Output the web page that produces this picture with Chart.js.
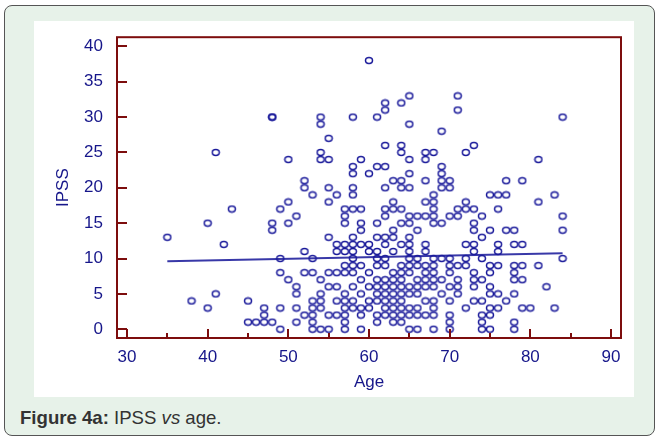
<!DOCTYPE html>
<html lang="en">
  <head>
    <meta charset="UTF-8" />
    <title>IPSS vs age</title>
    <script src="https://cdn.jsdelivr.net/npm/chart.js"></script>
    <style>
      html, body { margin: 0; padding: 0; background: #ffffff; }
      body { width: 661px; height: 439px; position: relative; overflow: hidden; font-family: "Liberation Sans", Arial, sans-serif; }
      #card {
        position: absolute; left: 4px; top: 5px; width: 649px; height: 429px;
        background: #e7f2e9; border: 1.5px solid #555; border-radius: 8px;
      }
      #panel { position: absolute; left: 34px; top: 21px; width: 600px; height: 376px; background: #fff; }
      #caption { position: absolute; left: 20px; top: 407px; font-size: 18.6px; color: #333; }
    </style>
  </head>
  <body>
    <div id="card"></div>
    <div id="panel"><canvas id="scatter" width="600" height="376"></canvas></div>
    <div id="caption"><b>Figure 4a:</b> IPSS <i>vs</i> age.</div>

    <script>
      // scatter values, one line per IPSS level
      const age = [
        60,
        65, 71,
        62, 64,
        62, 71,
        48, 48, 54, 58, 61, 84,
        54, 65,
        69,
        55,
        62, 64, 73,
        41, 54, 64, 67, 68, 72,
        50, 54, 55, 59, 65, 67, 81,
        58, 61, 62, 69,
        58, 60, 65, 69,
        52, 63, 64, 67, 69, 70, 77, 79,
        52, 55, 58, 62, 64, 65, 69, 70,
        53, 56, 58, 68, 75, 76, 77, 83,
        50, 55, 63, 67, 68, 72, 81,
        43, 49, 57, 58, 59, 62, 63, 64, 68, 71, 72, 73, 76,
        51, 57, 62, 65, 66, 67, 68, 70, 71, 74, 84,
        40, 48, 50, 57, 59, 61, 64, 65, 68, 69, 73,
        48, 59, 63, 66, 73, 75, 77, 78, 84,
        35, 55, 58, 61, 62, 63, 65, 74,
        42, 56, 57, 58, 59, 60, 62, 64, 65, 67, 72, 73, 76, 78, 79,
        52, 56, 57, 58, 60, 61, 63, 65, 67, 73, 76,
        49, 53, 58, 61, 62, 65, 66, 68, 69, 70, 72, 74, 84,
        57, 58, 59, 61, 62, 64, 65, 66, 67, 68, 70, 71, 72, 75, 76, 78, 79, 81,
        49, 52, 53, 55, 56, 57, 58, 60, 63, 64, 65, 67, 68, 70, 73, 75, 78,
        50, 54, 59, 61, 62, 63, 64, 66, 67, 68, 69, 71, 73, 74, 78, 79,
        51, 55, 56, 58, 60, 61, 62, 63, 64, 65, 66, 67, 68, 70, 71, 73, 75, 82,
        41, 51, 54, 57, 59, 61, 62, 63, 64, 65, 66, 69, 71, 75, 76, 78,
        38, 45, 53, 54, 56, 57, 58, 60, 61, 62, 63, 64, 67, 68, 70, 73, 74, 77,
        40, 47, 49, 51, 53, 54, 57, 58, 59, 60, 62, 63, 64, 65, 66, 68, 72, 75, 76, 79, 80, 83,
        47, 52, 53, 55, 56, 57, 59, 61, 62, 63, 64, 65, 66, 67, 68, 70, 74, 75,
        45, 46, 47, 48, 51, 53, 57, 61, 63, 64, 70, 74, 78,
        49, 53, 54, 55, 57, 59, 65, 66, 68, 70, 74, 75, 78,
      ];
      const ipss = [
        38,
        33, 33,
        32, 32,
        31, 31,
        30, 30, 30, 30, 30, 30,
        29, 29,
        28,
        27,
        26, 26, 26,
        25, 25, 25, 25, 25, 25,
        24, 24, 24, 24, 24, 24, 24,
        23, 23, 23, 23,
        22, 22, 22, 22,
        21, 21, 21, 21, 21, 21, 21, 21,
        20, 20, 20, 20, 20, 20, 20, 20,
        19, 19, 19, 19, 19, 19, 19, 19,
        18, 18, 18, 18, 18, 18, 18,
        17, 17, 17, 17, 17, 17, 17, 17, 17, 17, 17, 17, 17,
        16, 16, 16, 16, 16, 16, 16, 16, 16, 16, 16,
        15, 15, 15, 15, 15, 15, 15, 15, 15, 15, 15,
        14, 14, 14, 14, 14, 14, 14, 14, 14,
        13, 13, 13, 13, 13, 13, 13, 13,
        12, 12, 12, 12, 12, 12, 12, 12, 12, 12, 12, 12, 12, 12, 12,
        11, 11, 11, 11, 11, 11, 11, 11, 11, 11, 11,
        10, 10, 10, 10, 10, 10, 10, 10, 10, 10, 10, 10, 10,
        9, 9, 9, 9, 9, 9, 9, 9, 9, 9, 9, 9, 9, 9, 9, 9, 9, 9,
        8, 8, 8, 8, 8, 8, 8, 8, 8, 8, 8, 8, 8, 8, 8, 8, 8,
        7, 7, 7, 7, 7, 7, 7, 7, 7, 7, 7, 7, 7, 7, 7, 7,
        6, 6, 6, 6, 6, 6, 6, 6, 6, 6, 6, 6, 6, 6, 6, 6, 6, 6,
        5, 5, 5, 5, 5, 5, 5, 5, 5, 5, 5, 5, 5, 5, 5, 5,
        4, 4, 4, 4, 4, 4, 4, 4, 4, 4, 4, 4, 4, 4, 4, 4, 4, 4,
        3, 3, 3, 3, 3, 3, 3, 3, 3, 3, 3, 3, 3, 3, 3, 3, 3, 3, 3, 3, 3, 3,
        2, 2, 2, 2, 2, 2, 2, 2, 2, 2, 2, 2, 2, 2, 2, 2, 2, 2,
        1, 1, 1, 1, 1, 1, 1, 1, 1, 1, 1, 1, 1,
        0, 0, 0, 0, 0, 0, 0, 0, 0, 0, 0, 0, 0,
      ];

      // regression line end points
      const regAge = [35, 84];
      const regIpss = [9.6, 10.75];

      const xTicks = [30, 40, 50, 60, 70, 80, 90];
      const xMinorTicks = [35, 45, 55, 65, 75, 85];
      const yTicks = [0, 5, 10, 15, 20, 25, 30, 35, 40];

      const navy = "#16168a";
      const axisRed = "#7d0d0d";

      // open ellipse marker like the original
      const marker = document.createElement("canvas");
      marker.width = 10;
      marker.height = 9;
      const mctx = marker.getContext("2d");
      mctx.strokeStyle = "#1a1a9a";
      mctx.lineWidth = 1.5;
      mctx.beginPath();
      mctx.ellipse(5, 4.5, 3.5, 2.9, 0, 0, Math.PI * 2);
      mctx.stroke();

      // box around the plot with inward tick marks
      const frame = {
        id: "frame",
        afterDatasetsDraw(chart) {
          const { ctx, chartArea: a, scales } = chart;
          ctx.save();
          ctx.strokeStyle = axisRed;
          ctx.lineWidth = 2;
          ctx.strokeRect(a.left, a.top, a.right - a.left, a.bottom - a.top);
          ctx.beginPath();
          yTicks.forEach((v) => {
            const py = Math.round(scales.y.getPixelForValue(v));
            ctx.moveTo(a.left, py);
            ctx.lineTo(a.left + 10, py);
          });
          xTicks.forEach((v) => {
            const px = Math.round(scales.x.getPixelForValue(v));
            ctx.moveTo(px, a.bottom);
            ctx.lineTo(px, a.bottom - 9);
          });
          xMinorTicks.forEach((v) => {
            const px = Math.round(scales.x.getPixelForValue(v));
            ctx.moveTo(px, a.bottom);
            ctx.lineTo(px, a.bottom - 5);
          });
          ctx.stroke();
          ctx.restore();
        },
      };

      const font = { family: "'Liberation Sans', Arial, sans-serif", size: 17 };

      new Chart(document.getElementById("scatter"), {
        type: "scatter",
        data: {
          datasets: [
            {
              label: "IPSS",
              data: age.map((a, i) => ({ x: a, y: ipss[i] })),
              pointStyle: marker,
              pointRadius: 4,
            },
            {
              type: "line",
              label: "fit",
              data: regAge.map((a, i) => ({ x: a, y: regIpss[i] })),
              borderColor: "#3838a8",
              borderWidth: 2,
              pointRadius: 0,
              fill: false,
            },
          ],
        },
        options: {
          responsive: false,
          animation: false,
          layout: { padding: { left: 0, right: 13, top: 8, bottom: 0 } },
          plugins: { legend: { display: false }, tooltip: { enabled: false } },
          scales: {
            x: {
              type: "linear",
              min: 28.76,
              max: 91.24,
              afterBuildTicks: (s) => { s.ticks = xTicks.map((v) => ({ value: v })); },
              afterFit: (s) => { s.height = 59; },
              grid: { display: false },
              border: { display: false },
              ticks: { color: navy, font, padding: 1, maxRotation: 0 },
              title: { display: true, text: "Age", color: navy, font, padding: { top: 0, bottom: 4 } },
            },
            y: {
              type: "linear",
              min: -1.24,
              max: 41.3,
              afterBuildTicks: (s) => { s.ticks = yTicks.map((v) => ({ value: v })); },
              afterFit: (s) => { s.width = 83; },
              grid: { display: false },
              border: { display: false },
              ticks: { color: navy, font, padding: 6 },
              title: { display: true, text: "IPSS", color: navy, font, padding: { top: 19, bottom: 0 } },
            },
          },
        },
        plugins: [frame],
      });
    </script>
  </body>
</html>
